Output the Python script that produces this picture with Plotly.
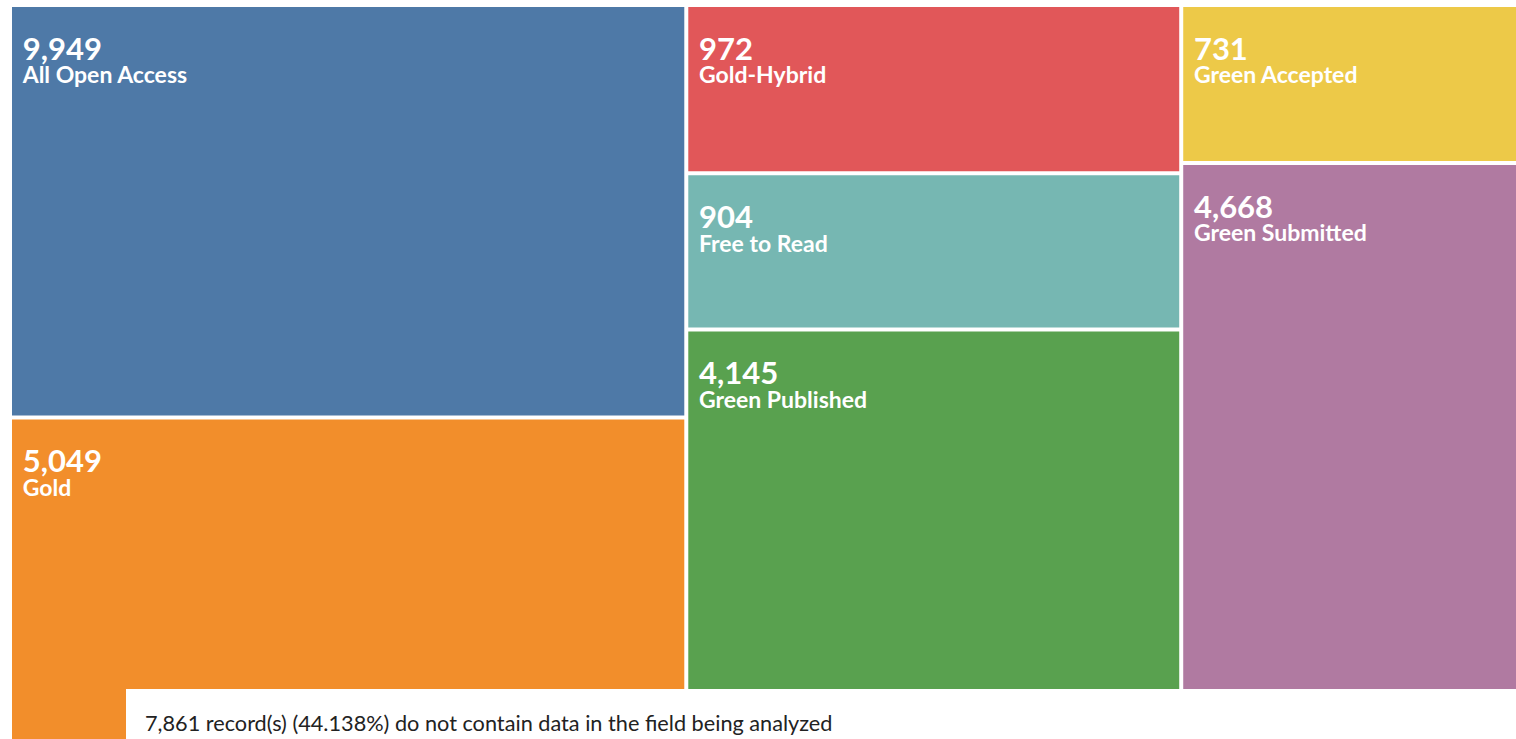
import plotly.graph_objects as go

# Open access categories, record counts and the relative tile areas seen in the chart
labels = ['All Open Access', 'Gold', 'Gold-Hybrid', 'Free to Read',
          'Green Published', 'Green Accepted', 'Green Submitted']
records = [9949, 5049, 972, 904, 4145, 731, 4668]
tile_area = [278, 218, 83, 77, 203, 53, 194]
column = ['col1', 'col1', 'col2', 'col2', 'col2', 'col3', 'col3']
colors = ['#4E79A7', '#F28E2B', '#E15759', '#76B7B2', '#59A14F', '#EDC948', '#B07AA1']

missing_records = 7861
missing_pct = 44.138

W, H = 1516, 739
FONT = 'Lato'

# Build the hierarchy: root -> columns -> categories
ids = ['root', 'col1', 'col2', 'col3'] + labels
parents = ['', 'root', 'root', 'root'] + column
values = [0, 0, 0, 0] + tile_area
names = ['', '', '', ''] + labels
counts = ['', '', '', ''] + ['{:,}'.format(v) for v in records]
fills = ['white'] * 4 + colors

# blank lines push the text down, a leading space insets it from the tile edge
indent = "<span style='font-size:30px'>&nbsp;</span>"
leaf_text = ("<span style='font-size:2px'>&nbsp;</span><br>"
             "<span style='font-size:2px'>&nbsp;</span><br>"
             + indent + "<span style='font-size:31px'><b>%{customdata}</b></span><br>"
             + indent + "<span style='font-size:23px'><b>%{label}</b></span>")
templates = [''] * 4 + [leaf_text] * len(labels)

fig = go.Figure(go.Treemap(
    ids=ids, parents=parents, labels=names, values=values,
    branchvalues='remainder', sort=False, customdata=counts,
    texttemplate=templates, textposition='top left',
    textfont=dict(family=FONT, size=18.3, color='white'),
    marker=dict(colors=fills, line=dict(width=0), pad=dict(t=0, l=0, r=0, b=0)),
    tiling=dict(packing='slice-dice', pad=4),
    pathbar=dict(visible=False), root=dict(color='white'),
    domain=dict(x=[12 / W, 1], y=[0, 1 - 7 / H]),
    hoverinfo='skip'))

# Footer box laid over the bottom of the treemap
fig.add_shape(type='rect', xref='paper', yref='paper',
              x0=126 / W, x1=1, y0=0, y1=(H - 689) / H,
              fillcolor='white', line=dict(width=0), layer='above')
fig.add_annotation(
    text='{:,} record(s) ({}%) do not contain data in the field being analyzed'.format(
        missing_records, missing_pct),
    xref='paper', yref='paper', x=143 / W, y=(H - 723) / H,
    xanchor='left', yanchor='middle', showarrow=False,
    font=dict(family=FONT, size=21.7, color='#222222'))

fig.update_layout(
    width=W, height=H, margin=dict(t=0, b=0, l=0, r=0),
    paper_bgcolor='white', font=dict(family=FONT))

fig.write_html('out.html', config={'displayModeBar': False},
               post_script="document.body.style.margin='0px';")
